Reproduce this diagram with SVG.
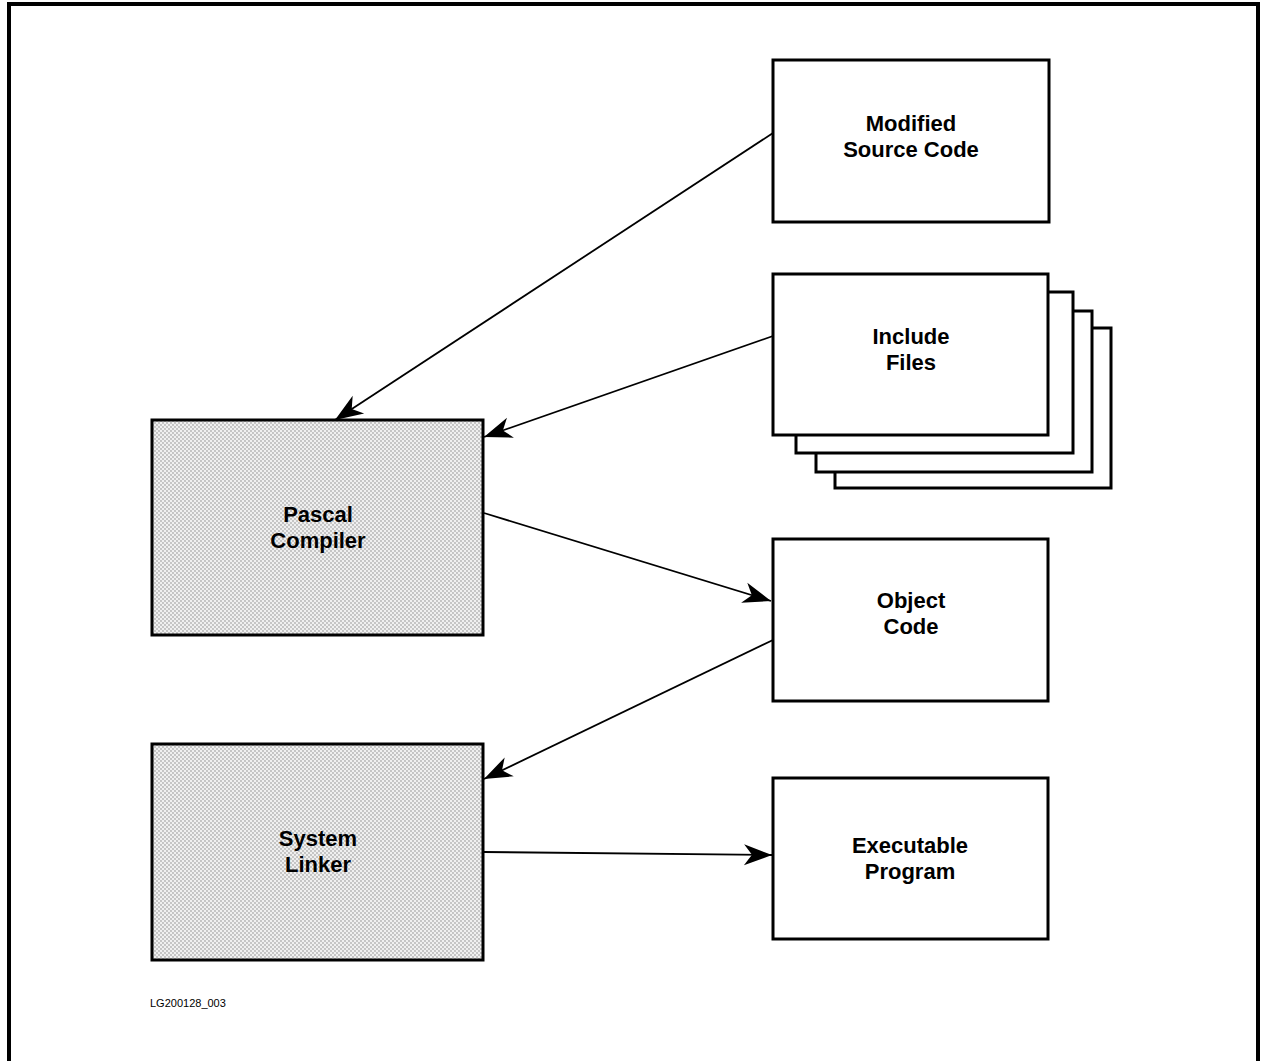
<svg xmlns="http://www.w3.org/2000/svg" width="1262" height="1061" viewBox="0 0 1262 1061">
  <style>
    .box { fill: #fff; stroke: #000; stroke-width: 3; }
    .shaded { fill: url(#stipple); stroke: #000; stroke-width: 3; }
    .label { font-family: "Liberation Sans", Arial, sans-serif; font-weight: bold; font-size: 22px; fill: #000; text-anchor: middle; }
    .tag { font-family: "Liberation Sans", Arial, sans-serif; font-size: 11px; fill: #000; }
    .conn { stroke: #000; stroke-width: 1.8; fill: none; marker-end: url(#arrow); }
  </style>
  <defs>
    <!-- fine dot screen used for the shaded tool boxes -->
    <pattern id="stipple" width="4" height="4" patternUnits="userSpaceOnUse">
      <rect width="4" height="4" fill="#f0f0f0"/>
      <circle cx="1" cy="1" r="0.65" fill="#777"/>
      <circle cx="3" cy="3" r="0.65" fill="#777"/>
    </pattern>
    <!-- barbed arrowhead, tip at the line end -->
    <marker id="arrow" viewBox="-30 -12 32 24" refX="0" refY="0" markerWidth="32" markerHeight="24" markerUnits="userSpaceOnUse" orient="auto">
      <path d="M0,0 L-28,-10.5 L-20,0 L-28,10.5 Z" fill="#000"/>
    </marker>
  </defs>

  <rect width="1262" height="1061" fill="#fff"/>

  <!-- page frame (open at the bottom) -->
  <path d="M9,1070 V4 H1258 V1070" fill="none" stroke="#000" stroke-width="4"/>

  <g id="modified-source">
    <rect class="box" x="773" y="60" width="276" height="162"/>
    <text class="label" x="911" y="131">Modified</text>
    <text class="label" x="911" y="157">Source Code</text>
  </g>

  <g id="include-files">
    <rect class="box" x="835" y="328" width="276" height="160"/>
    <rect class="box" x="816" y="311" width="276" height="161"/>
    <rect class="box" x="796" y="292" width="277" height="161"/>
    <rect class="box" x="773" y="274" width="275" height="161"/>
    <text class="label" x="911" y="344">Include</text>
    <text class="label" x="911" y="370">Files</text>
  </g>

  <g id="pascal-compiler">
    <rect class="shaded" x="152" y="420" width="331" height="215"/>
    <text class="label" x="318" y="522">Pascal</text>
    <text class="label" x="318" y="548">Compiler</text>
  </g>

  <g id="object-code">
    <rect class="box" x="773" y="539" width="275" height="162"/>
    <text class="label" x="911" y="608">Object</text>
    <text class="label" x="911" y="634">Code</text>
  </g>

  <g id="system-linker">
    <rect class="shaded" x="152" y="744" width="331" height="216"/>
    <text class="label" x="318" y="846">System</text>
    <text class="label" x="318" y="872">Linker</text>
  </g>

  <g id="executable-program">
    <rect class="box" x="773" y="778" width="275" height="161"/>
    <text class="label" x="910" y="853">Executable</text>
    <text class="label" x="910" y="879">Program</text>
  </g>

  <g id="connectors">
    <line class="conn" x1="773" y1="133" x2="335" y2="420"/>
    <line class="conn" x1="773" y1="336" x2="484" y2="437"/>
    <line class="conn" x1="484" y1="513" x2="771" y2="601"/>
    <line class="conn" x1="773" y1="640" x2="484" y2="779"/>
    <line class="conn" x1="484" y1="852" x2="772" y2="855"/>
  </g>

  <text class="tag" x="150" y="1007">LG200128_003</text>
</svg>
